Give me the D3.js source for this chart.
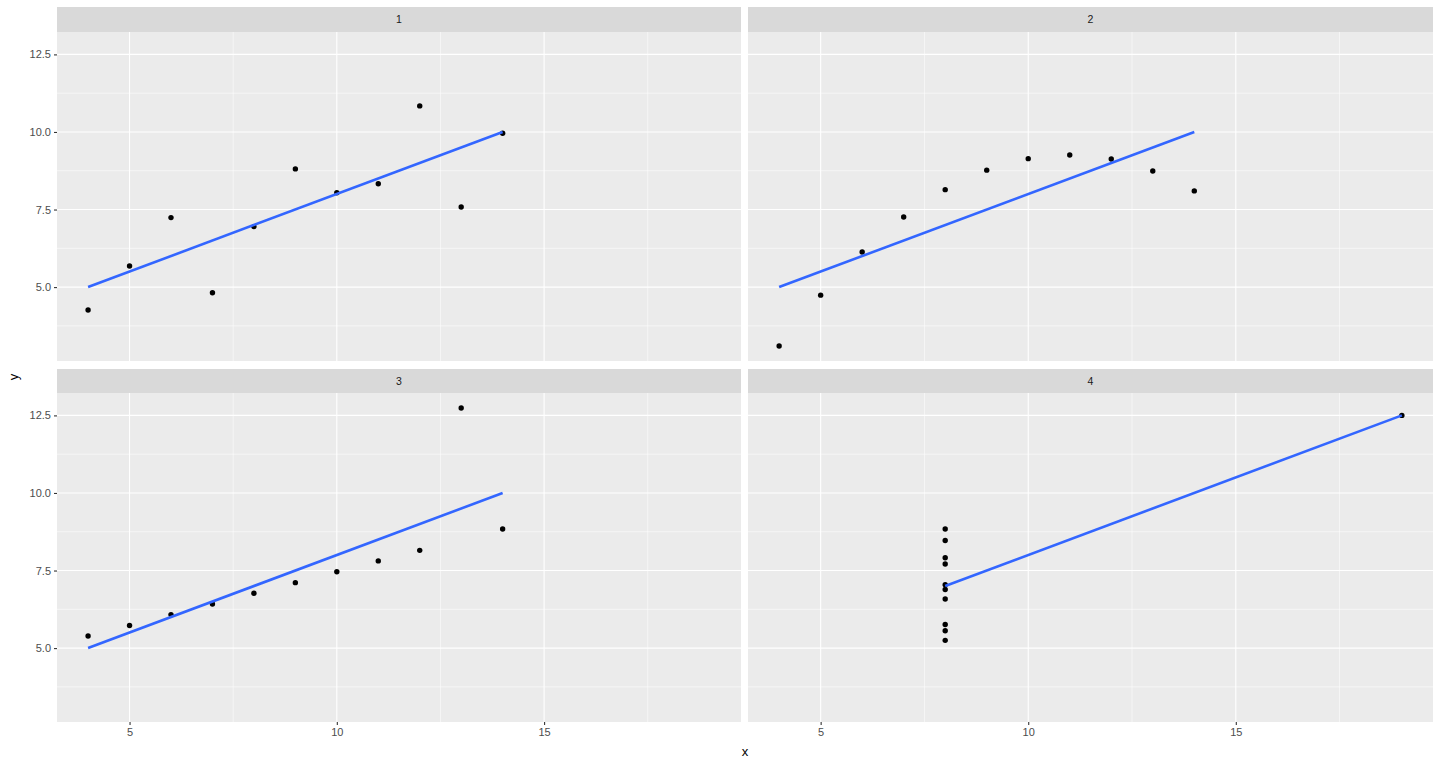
<!DOCTYPE html>
<html>
<head>
<meta charset="utf-8">
<script src="https://cdn.jsdelivr.net/npm/d3@7"></script>
<style>
  body { margin: 0; background: #fff; }
  text { font-family: "Liberation Sans", Arial, sans-serif; }
</style>
</head>
<body>
<div id="chart"></div>
<script>
// Anscombe's quartet
const x123 = [10, 8, 13, 9, 11, 14, 6, 4, 12, 7, 5];
const y1 = [8.04, 6.95, 7.58, 8.81, 8.33, 9.96, 7.24, 4.26, 10.84, 4.82, 5.68];
const y2 = [9.14, 8.14, 8.74, 8.77, 9.26, 8.10, 6.13, 3.10, 9.13, 7.26, 4.74];
const y3 = [7.46, 6.77, 12.74, 7.11, 7.81, 8.84, 6.08, 5.39, 8.15, 6.42, 5.73];
const x4 = [8, 8, 8, 8, 8, 8, 8, 19, 8, 8, 8];
const y4 = [6.58, 5.76, 7.71, 8.84, 8.47, 7.04, 5.25, 12.50, 5.56, 7.91, 6.89];
const panelNames = ["1", "2", "3", "4"];
const xTicks = [5, 10, 15];
const xMinor = [7.5, 12.5, 17.5];
const yTicks = [5.0, 7.5, 10.0, 12.5];
const yMinor = [3.75, 6.25, 8.75, 11.25];

const width = 1440, height = 768;

const panels = [
  {name: panelNames[0], xs: x123, ys: y1},
  {name: panelNames[1], xs: x123, ys: y2},
  {name: panelNames[2], xs: x123, ys: y3},
  {name: panelNames[3], xs: x4, ys: y4}
];

// shared scales (facet_wrap with fixed scales)
const allX = x123.concat(x4);
const allY = y1.concat(y2, y3, y4);
const xExt = d3.extent(allX), yExt = d3.extent(allY);
const xPad = (xExt[1] - xExt[0]) * 0.05, yPad = (yExt[1] - yExt[0]) * 0.05;

const cols = [[57, 741], [748, 1433]];
const rows = [{strip: 7, top: 32, bottom: 361}, {strip: 369, top: 393, bottom: 722}];

const svg = d3.select("#chart").append("svg")
  .attr("width", width)
  .attr("height", height);

// least squares fit for geom_smooth(method = "lm")
function fit(xs, ys) {
  const mx = d3.mean(xs), my = d3.mean(ys);
  let sxy = 0, sxx = 0;
  xs.forEach((x, i) => { sxy += (x - mx) * (ys[i] - my); sxx += (x - mx) * (x - mx); });
  const b = sxy / sxx;
  return {a: my - b * mx, b: b};
}

panels.forEach((p, i) => {
  const col = cols[i % 2], row = rows[Math.floor(i / 2)];

  const xScale = d3.scaleLinear()
    .domain([xExt[0] - xPad, xExt[1] + xPad])
    .range(col);
  const yScale = d3.scaleLinear()
    .domain([yExt[0] - yPad, yExt[1] + yPad])
    .range([row.bottom, row.top]);

  const g = svg.append("g");

  // strip
  g.append("rect")
    .attr("x", col[0]).attr("y", row.strip)
    .attr("width", col[1] - col[0]).attr("height", row.top - row.strip)
    .attr("fill", "#d9d9d9");
  g.append("text")
    .attr("x", (col[0] + col[1]) / 2).attr("y", (row.strip + row.top) / 2)
    .attr("dy", "0.35em")
    .attr("text-anchor", "middle")
    .attr("font-size", 10.5)
    .attr("fill", "#1a1a1a")
    .text(p.name);

  // panel background
  g.append("rect")
    .attr("x", col[0]).attr("y", row.top)
    .attr("width", col[1] - col[0]).attr("height", row.bottom - row.top)
    .attr("fill", "#ebebeb");

  // minor grid
  g.selectAll(".xminor").data(xMinor).enter().append("line")
    .attr("x1", d => xScale(d)).attr("x2", d => xScale(d))
    .attr("y1", row.top).attr("y2", row.bottom)
    .attr("stroke", "#fff").attr("stroke-width", 0.55);
  g.selectAll(".yminor").data(yMinor).enter().append("line")
    .attr("y1", d => yScale(d)).attr("y2", d => yScale(d))
    .attr("x1", col[0]).attr("x2", col[1])
    .attr("stroke", "#fff").attr("stroke-width", 0.55);

  // major grid
  g.selectAll(".xmajor").data(xTicks).enter().append("line")
    .attr("x1", d => xScale(d)).attr("x2", d => xScale(d))
    .attr("y1", row.top).attr("y2", row.bottom)
    .attr("stroke", "#fff").attr("stroke-width", 1.1);
  g.selectAll(".ymajor").data(yTicks).enter().append("line")
    .attr("y1", d => yScale(d)).attr("y2", d => yScale(d))
    .attr("x1", col[0]).attr("x2", col[1])
    .attr("stroke", "#fff").attr("stroke-width", 1.1);

  // axes: y on the left column, x on the bottom row
  if (i % 2 === 0) {
    const ay = g.append("g")
      .attr("transform", `translate(${col[0]},0)`)
      .call(d3.axisLeft(yScale).tickValues(yTicks).tickFormat(d3.format(".1f")).tickSize(3).tickPadding(3));
    ay.select(".domain").remove();
    ay.selectAll("line").attr("stroke", "#333").attr("stroke-width", 1.1);
    ay.selectAll("text").attr("fill", "#4d4d4d").attr("font-size", 11).attr("font-family", "Liberation Sans, Arial, sans-serif");
  }
  if (Math.floor(i / 2) === 1) {
    const ax = g.append("g")
      .attr("transform", `translate(0,${row.bottom})`)
      .call(d3.axisBottom(xScale).tickValues(xTicks).tickFormat(d3.format("d")).tickSize(3).tickPadding(3));
    ax.select(".domain").remove();
    ax.selectAll("line").attr("stroke", "#333").attr("stroke-width", 1.1);
    ax.selectAll("text").attr("fill", "#4d4d4d").attr("font-size", 11).attr("font-family", "Liberation Sans, Arial, sans-serif");
  }

  // points
  g.selectAll(".pt").data(p.xs.map((x, k) => [x, p.ys[k]])).enter().append("circle")
    .attr("cx", d => xScale(d[0]))
    .attr("cy", d => yScale(d[1]))
    .attr("r", 2.7)
    .attr("fill", "#000");

  // regression line over the data's x range
  const f = fit(p.xs, p.ys);
  const xr = d3.extent(p.xs);
  const line = d3.line().x(d => xScale(d)).y(d => yScale(f.a + f.b * d));
  g.append("path")
    .datum(xr)
    .attr("d", line)
    .attr("fill", "none")
    .attr("stroke", "#3366ff")
    .attr("stroke-width", 2.6);
});

// axis titles
svg.append("text")
  .attr("x", (cols[0][0] + cols[1][1]) / 2).attr("y", 756)
  .attr("text-anchor", "middle")
  .attr("font-size", 13)
  .attr("fill", "#000")
  .text("x");
svg.append("text")
  .attr("transform", `translate(18,377) rotate(-90)`)
  .attr("text-anchor", "middle")
  .attr("font-size", 13)
  .attr("fill", "#000")
  .text("y");
</script>
</body>
</html>
